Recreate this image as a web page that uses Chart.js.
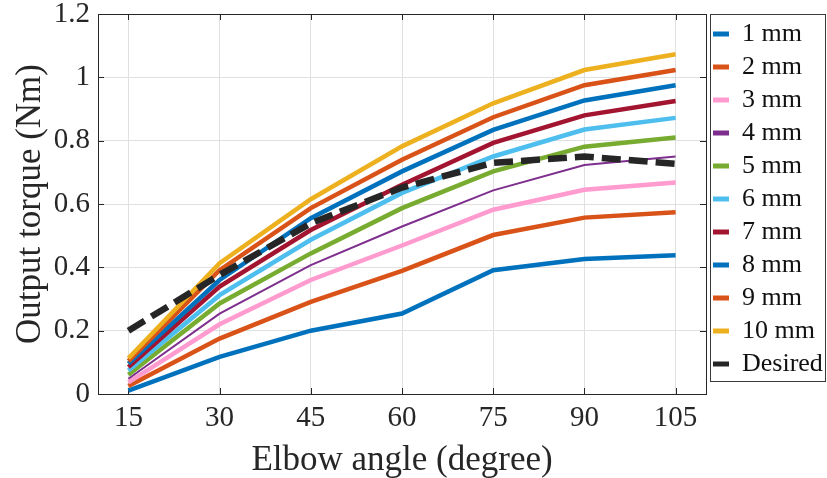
<!DOCTYPE html>
<html>
<head>
<meta charset="utf-8">
<title>Output torque vs elbow angle</title>
<script src="https://cdn.jsdelivr.net/npm/chart.js@4.4.0/dist/chart.umd.min.js"></script>
<style>
  html, body { margin: 0; padding: 0; background: #fff; }
</style>
</head>
<body>
<canvas id="torqueChart" width="827" height="478"></canvas>
<script>
// x categories (elbow angle, degree)
const angles = [15, 30, 45, 60, 75, 90, 105];

// output torque (Nm) per spring length
const mm1  = [0.011, 0.117, 0.200, 0.254, 0.391, 0.426, 0.438];
const mm2  = [0.025, 0.175, 0.291, 0.389, 0.502, 0.557, 0.574];
const mm3  = [0.037, 0.220, 0.360, 0.469, 0.582, 0.645, 0.668];
const mm4  = [0.048, 0.254, 0.407, 0.529, 0.643, 0.723, 0.750];
const mm5  = [0.061, 0.286, 0.444, 0.587, 0.703, 0.781, 0.810];
const mm6  = [0.074, 0.312, 0.487, 0.635, 0.750, 0.835, 0.872];
const mm7  = [0.085, 0.339, 0.518, 0.661, 0.793, 0.880, 0.925];
const mm8  = [0.096, 0.360, 0.555, 0.703, 0.834, 0.927, 0.975];
const mm9  = [0.104, 0.391, 0.587, 0.740, 0.874, 0.975, 1.023];
const mm10 = [0.113, 0.413, 0.615, 0.782, 0.918, 1.023, 1.073];
const desired = [0.200, 0.376, 0.539, 0.652, 0.730, 0.750, 0.727];

const seriesNames = ['1 mm', '2 mm', '3 mm', '4 mm', '5 mm', '6 mm', '7 mm', '8 mm', '9 mm', '10 mm', 'Desired'];
const seriesValues = [mm1, mm2, mm3, mm4, mm5, mm6, mm7, mm8, mm9, mm10, desired];

const yTicks = [0, 0.2, 0.4, 0.6, 0.8, 1, 1.2];

// MATLAB-ish colours
const colors = ['#0072BD', '#D95319', '#FF9BCF', '#7E2F8E', '#77AC30', '#4DBEEE',
                '#A2142F', '#0072BD', '#D95319', '#EDB120', '#262626'];

const axisColor = '#262626';
const serif = "'Liberation Serif', 'Times New Roman', serif";
Chart.defaults.font.family = serif;
Chart.defaults.color = axisColor;

const datasets = seriesNames.map((name, i) => {
  const isDesired = name === 'Desired';
  return {
    label: name,
    data: angles.map((a, k) => ({ x: a, y: seriesValues[i][k] })),
    borderColor: colors[i],
    backgroundColor: colors[i],
    borderWidth: isDesired ? 6.5 : (name === '4 mm' ? 2 : 4.5),
    borderDash: isDesired ? [19, 8] : [],
    borderCapStyle: 'butt',
    borderJoinStyle: 'miter',
    pointRadius: 0,
    tension: 0,
    order: seriesNames.length - i // later series drawn on top
  };
});

// full box around the axes with inward ticks, plus legend frame
const boxPlugin = {
  id: 'matlabBox',
  beforeDatasetsDraw(chart) {
    const { ctx, chartArea: a, scales } = chart;
    const tick = 6;
    ctx.save();
    ctx.strokeStyle = axisColor;
    ctx.lineWidth = 1;
    ctx.beginPath();
    angles.forEach(v => {
      const x = Math.round(scales.x.getPixelForValue(v)) + 0.5;
      ctx.moveTo(x, a.bottom); ctx.lineTo(x, a.bottom - tick);
      ctx.moveTo(x, a.top); ctx.lineTo(x, a.top + tick);
    });
    yTicks.forEach(v => {
      const y = Math.round(scales.y.getPixelForValue(v)) + 0.5;
      ctx.moveTo(a.left, y); ctx.lineTo(a.left + tick, y);
      ctx.moveTo(a.right, y); ctx.lineTo(a.right - tick, y);
    });
    ctx.stroke();
    ctx.strokeRect(Math.round(a.left) + 0.5, Math.round(a.top) + 0.5,
                   Math.round(a.right - a.left), Math.round(a.bottom - a.top));
    ctx.restore();
  },
  afterDraw(chart) {
    const lg = chart.legend;
    if (!lg || !lg.legendHitBoxes.length) return;
    const hb = lg.legendHitBoxes;
    const first = hb[0], last = hb[hb.length - 1];
    const ctx = chart.ctx;
    ctx.save();
    ctx.strokeStyle = '#3a3a3a';
    ctx.lineWidth = 1;
    const left = Math.round(first.left) - 2.5;
    const top = Math.round(first.top) - 6.5;
    const bottom = Math.round(last.top + last.height) + 4.5;
    ctx.strokeRect(left, top, 825.5 - left, bottom - top);
    ctx.restore();
  }
};

new Chart(document.getElementById('torqueChart'), {
  type: 'line',
  data: { datasets },
  plugins: [boxPlugin],
  options: {
    responsive: false,
    animation: false,
    layout: { padding: { top: 14, left: 0, right: 0, bottom: 0 } },
    scales: {
      x: {
        type: 'linear',
        min: 10,
        max: 110,
        afterBuildTicks: s => { s.ticks = angles.map(v => ({ value: v })); },
        afterFit: s => { s.height = 84; s.paddingLeft = 0; s.paddingRight = 0; },
        grid: { color: '#e0e0e0', lineWidth: 1, drawTicks: false },
        border: { display: false },
        ticks: { padding: 7, font: { family: serif, size: 29 }, color: axisColor, maxRotation: 0 },
        title: {
          display: true,
          text: 'Elbow angle (degree)',
          font: { family: serif, size: 35, lineHeight: 1 },
          padding: { top: 0, bottom: 0 },
          color: axisColor
        }
      },
      y: {
        min: 0,
        max: 1.2,
        afterBuildTicks: s => { s.ticks = yTicks.map(v => ({ value: v })); },
        afterFit: s => { s.width = 98; s.paddingTop = 0; s.paddingBottom = 0; },
        grid: { color: '#e0e0e0', lineWidth: 1, drawTicks: false },
        border: { display: false },
        ticks: {
          padding: 8,
          font: { family: serif, size: 29 },
          color: axisColor,
          callback: v => String(v)
        },
        title: {
          display: true,
          text: 'Output torque (Nm)',
          font: { family: serif, size: 35, lineHeight: 1 },
          padding: { top: 13, bottom: 0 },
          color: axisColor
        }
      }
    },
    plugins: {
      legend: {
        position: 'right',
        align: 'start',
        maxWidth: 121,
        labels: {
          boxWidth: 16,
          boxHeight: 5,
          padding: 7,
          font: { family: serif, size: 26 },
          color: '#111',
          sort: (a, b) => a.datasetIndex - b.datasetIndex,
          generateLabels: chart => {
            const items = Chart.defaults.plugins.legend.labels.generateLabels(chart);
            return items.map(it => Object.assign(it, { lineWidth: 0, lineDash: [] }));
          }
        }
      },
      tooltip: { enabled: false }
    }
  }
});
</script>
</body>
</html>
